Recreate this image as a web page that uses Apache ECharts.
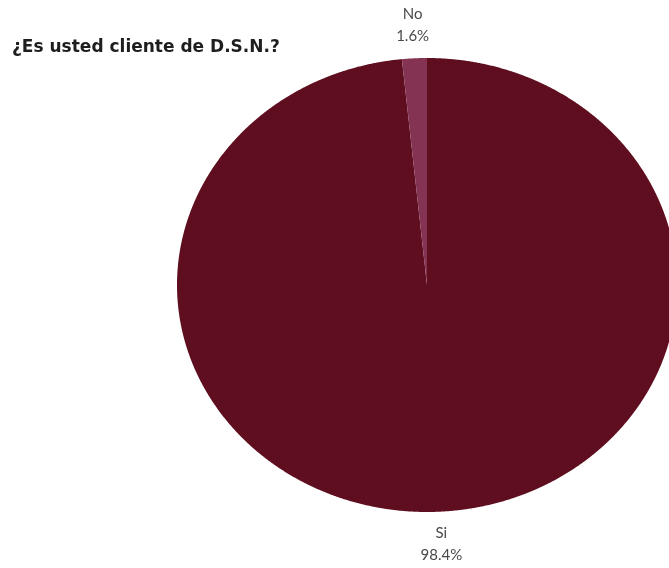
<!DOCTYPE html>
<html>
<head>
<meta charset="utf-8">
<script src="https://cdn.jsdelivr.net/npm/echarts@6/dist/echarts.min.js"></script>
<style>
  html, body { margin: 0; padding: 0; background: #fff; }
  #chart { width: 669px; height: 568px; }
</style>
</head>
<body>
<div id="chart"></div>
<script>
// Survey answers and their shares
const categories = ['Si', 'No'];
const values = [98.4, 1.6];
const sliceColors = ['#5e0e1e', '#843352'];
const titleText = '¿Es usted cliente de D.S.N.?';

const total = values.reduce((a, b) => a + b, 0);
const starts = [];
let acc = 0;
values.forEach(v => { starts.push(acc); acc += v; });

const seriesData = categories.map((name, i) => [starts[i], values[i], name]);

// Elliptical pie: slices are drawn clockwise from 12 o'clock on a unit
// circle in axis space, so the grid's aspect stretches them into an ellipse.
// The right side of the ellipse runs past the canvas edge.
function renderSlice(params, api) {
  const start = api.value(0) / total * Math.PI * 2;
  const end = (api.value(0) + api.value(1)) / total * Math.PI * 2;
  const idx = params.dataIndex;
  const pts = [api.coord([0, 0])];
  const steps = Math.max(2, Math.ceil((end - start) / 0.004));
  for (let s = 0; s <= steps; s++) {
    const t = start + (end - start) * s / steps;
    pts.push(api.coord([Math.sin(t), Math.cos(t)]));
  }
  const mid = (start + end) / 2;
  const lp = api.coord([Math.sin(mid) * 1.145, Math.cos(mid) * 1.145]);
  return {
    type: 'group',
    children: [
      {
        type: 'polygon',
        shape: { points: pts },
        style: { fill: sliceColors[idx], stroke: null }
      },
      {
        type: 'text',
        style: {
          text: categories[idx] + '\n' + values[idx].toFixed(1) + '%',
          x: lp[0],
          y: lp[1],
          align: 'center',
          verticalAlign: 'middle',
          fontFamily: 'Lato',
          fontSize: 15,
          lineHeight: 22,
          fill: '#4a4a4a'
        }
      }
    ]
  };
}

const chart = echarts.init(document.getElementById('chart'), null, { renderer: 'canvas' });
chart.setOption({
  animation: false,
  title: {
    text: titleText,
    left: 7,
    top: 34,
    textStyle: {
      fontFamily: 'DejaVu Sans',
      fontWeight: 'bold',
      fontSize: 17,
      color: '#1e1e1e'
    }
  },
  grid: { left: 177, top: 58, right: 0, height: 454, containLabel: false },
  xAxis: { type: 'value', min: -1, max: 0.968, show: false },
  yAxis: { type: 'value', min: -1, max: 1, show: false },
  series: [{
    type: 'custom',
    clip: false,
    renderItem: renderSlice,
    data: seriesData
  }]
});
</script>
</body>
</html>
